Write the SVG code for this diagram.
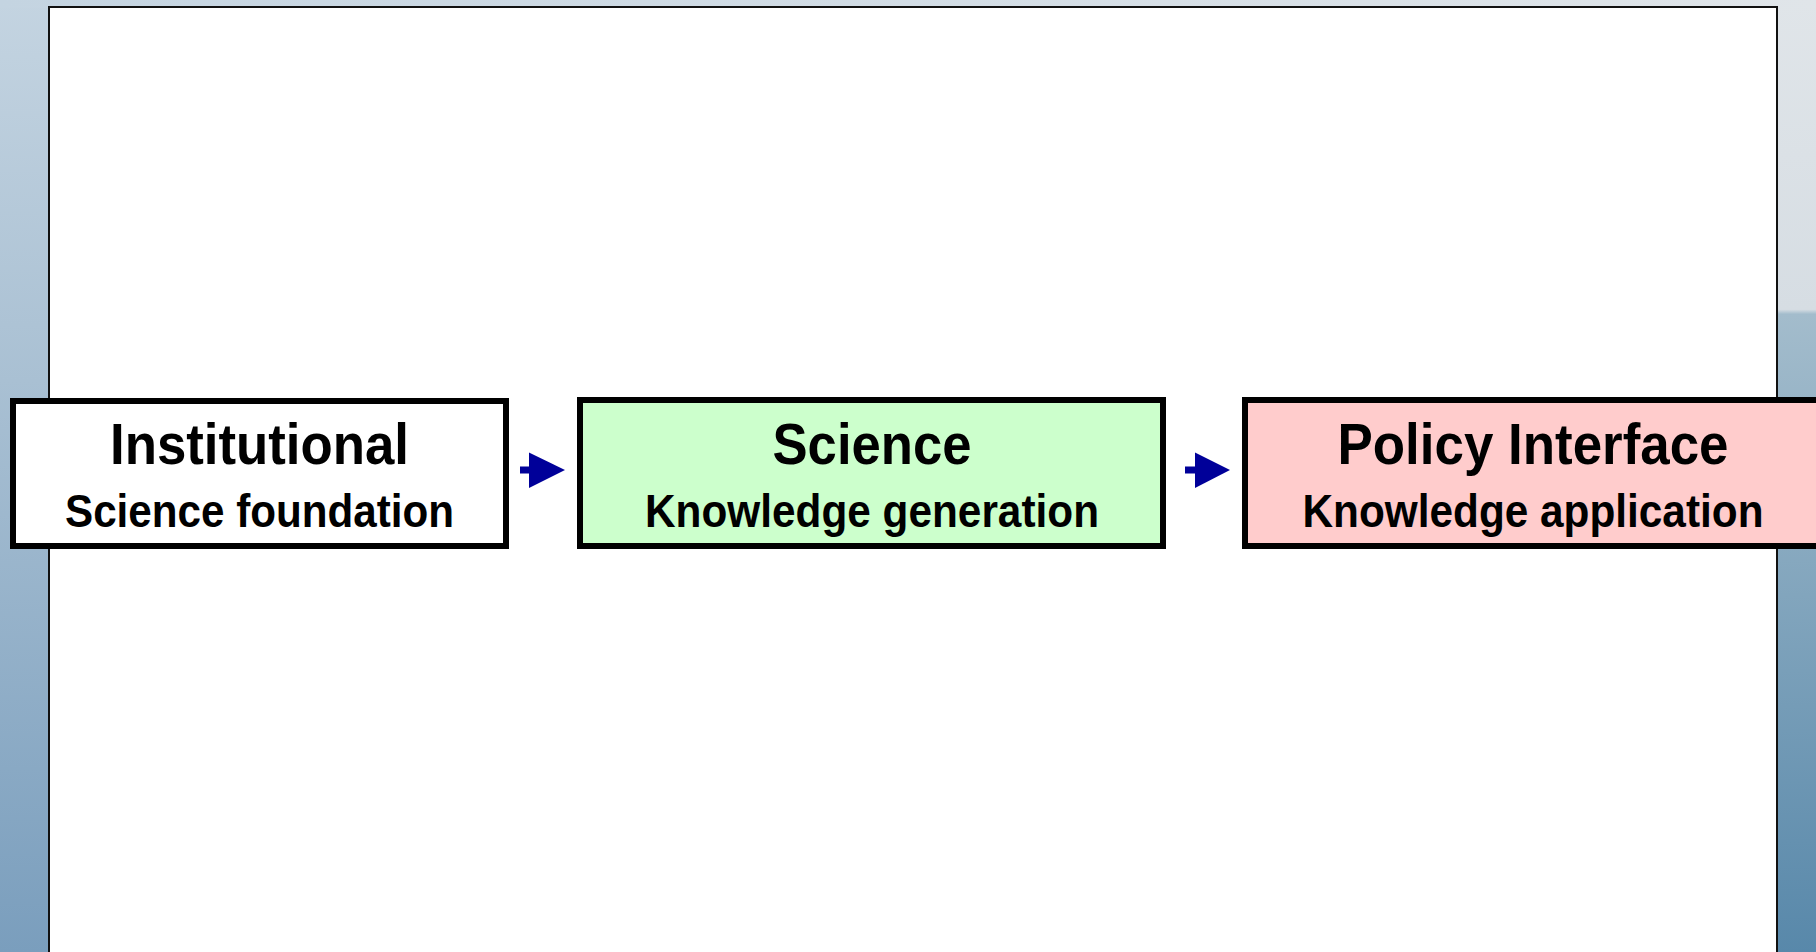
<svg xmlns="http://www.w3.org/2000/svg" width="1816" height="952" viewBox="0 0 1816 952">
<defs>
<linearGradient id="bgL" x1="0" y1="0" x2="0" y2="1">
<stop offset="0" stop-color="#c4d4e1"/>
<stop offset="0.4" stop-color="#a9c0d3"/>
<stop offset="1" stop-color="#7a9ebd"/>
</linearGradient>
<linearGradient id="bgR" x1="0" y1="0" x2="0" y2="1">
<stop offset="0" stop-color="#e0e5e9"/>
<stop offset="0.325" stop-color="#d6dde3"/>
<stop offset="0.33" stop-color="#a3bccc"/>
<stop offset="1" stop-color="#5888aa"/>
</linearGradient>
<linearGradient id="bgT" x1="0" y1="0" x2="1" y2="0">
<stop offset="0" stop-color="#c4d4e1"/>
<stop offset="1" stop-color="#e0e5e9"/>
</linearGradient>
</defs>
<style>
.box{stroke:#000;stroke-width:6}
.t1{font-family:"Liberation Sans",Arial,sans-serif;font-weight:bold;font-size:58px;fill:#000}
.t2{font-family:"Liberation Sans",Arial,sans-serif;font-weight:bold;font-size:47px;fill:#000}
.arr{fill:#000099}
</style>
<rect x="0" y="0" width="908" height="952" fill="url(#bgL)"/>
<rect x="908" y="0" width="908" height="952" fill="url(#bgR)"/>
<rect x="0" y="0" width="1816" height="8" fill="url(#bgT)"/>
<rect id="panel" x="49" y="7" width="1728" height="960" fill="#fff" stroke="#111" stroke-width="2"/>
<g id="connectors">
<g id="arrow1"><rect class="arr" x="520" y="466.5" width="10" height="7"/><polygon class="arr" points="529,452.5 565,470 529,488"/></g>
<g id="arrow2"><rect class="arr" x="1185" y="466.5" width="11" height="7"/><polygon class="arr" points="1195,452.5 1230,470 1195,488"/></g>
</g>
<g id="node-institutional">
<rect class="box" x="13" y="401" width="493" height="145" fill="#fff"/>
<text class="t1" x="259.5" y="464" text-anchor="middle" textLength="299" lengthAdjust="spacingAndGlyphs">Institutional</text>
<text class="t2" x="259.5" y="527" text-anchor="middle" textLength="389" lengthAdjust="spacingAndGlyphs">Science foundation</text>
</g>
<g id="node-science">
<rect class="box" x="580" y="400" width="583" height="146" fill="#ccffcc"/>
<text class="t1" x="872" y="464" text-anchor="middle" textLength="199" lengthAdjust="spacingAndGlyphs">Science</text>
<text class="t2" x="872" y="527" text-anchor="middle" textLength="454" lengthAdjust="spacingAndGlyphs">Knowledge generation</text>
</g>
<g id="node-policy">
<rect class="box" x="1245" y="400" width="590" height="146" fill="#ffcccc"/>
<text class="t1" x="1533" y="464" text-anchor="middle" textLength="391" lengthAdjust="spacingAndGlyphs">Policy Interface</text>
<text class="t2" x="1533" y="527" text-anchor="middle" textLength="461" lengthAdjust="spacingAndGlyphs">Knowledge application</text>
</g>
</svg>
